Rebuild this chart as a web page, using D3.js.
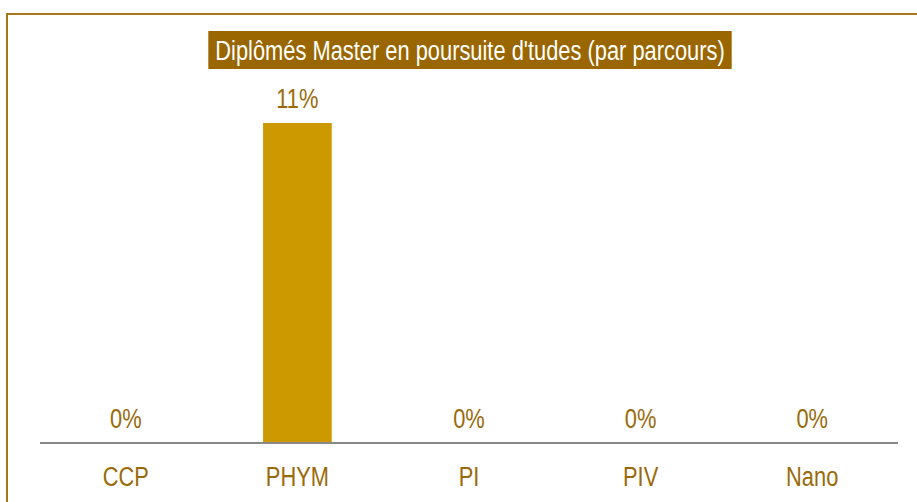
<!DOCTYPE html>
<html>
<head>
<meta charset="utf-8">
<script src="https://cdn.jsdelivr.net/npm/d3@7"></script>
<style>
  html, body { margin: 0; padding: 0; background: #fff; overflow: hidden; }
  svg { display: block; font-family: "Liberation Sans", Arial, sans-serif; }
</style>
</head>
<body>
<div id="chart"></div>
<script>
const categories = ['CCP', 'PHYM', 'PI', 'PIV', 'Nano'];
const values = [0, 11, 0, 0, 0];
const title = "Diplômés Master en poursuite d'tudes (par parcours)";

const W = 917, H = 502;
const textColor = '#9a6a0a';
const narrow = 0.81; // fake a narrow face, no Arial Narrow here

const svg = d3.select('#chart').append('svg')
  .attr('width', W)
  .attr('height', H);

// frame (runs off the right and bottom edges)
svg.append('rect')
  .attr('x', 7).attr('y', 14)
  .attr('width', W + 20).attr('height', H + 20)
  .attr('fill', 'none')
  .attr('stroke', '#a8761a')
  .attr('stroke-width', 2);

const x = d3.scaleBand()
  .domain(categories)
  .range([40, 898])
  .paddingInner(0.6)
  .paddingOuter(0.3);

const y = d3.scaleLinear()
  .domain([0, 11])
  .range([443, 123]);

// bars
svg.selectAll('.bar')
  .data(values)
  .enter()
  .append('rect')
  .attr('class', 'bar')
  .attr('x', (d, i) => x(categories[i]))
  .attr('y', d => y(d))
  .attr('width', x.bandwidth())
  .attr('height', d => y(0) - y(d))
  .attr('fill', '#cc9900');

// value labels
svg.selectAll('.val')
  .data(values)
  .enter()
  .append('text')
  .attr('class', 'val')
  .attr('transform', (d, i) =>
    `translate(${x(categories[i]) + x.bandwidth() / 2},${y(d) - 15}) scale(${narrow},1)`)
  .attr('text-anchor', 'middle')
  .style('font-size', '27px')
  .style('fill', textColor)
  .text(d => d + '%');

// x axis
const axis = svg.append('g')
  .attr('transform', `translate(0,${y(0)})`)
  .call(d3.axisBottom(x).tickSize(0).tickPadding(0));
axis.select('.domain')
  .attr('d', 'M40,0H898')
  .attr('stroke', '#888')
  .attr('stroke-width', 2);
axis.selectAll('.tick text')
  .attr('y', null)
  .attr('dy', null)
  .attr('transform', `translate(0,43) scale(${narrow},1)`)
  .style('font-size', '27px')
  .style('font-family', '"Liberation Sans", Arial, sans-serif')
  .style('fill', textColor);

// title
const tg = svg.append('g');
tg.append('text')
  .attr('transform', `translate(470,60) scale(${narrow},1)`)
  .attr('text-anchor', 'middle')
  .style('font-size', '27px')
  .style('fill', '#fff')
  .text(title);
const bb = tg.node().getBBox();
tg.insert('rect', 'text')
  .attr('x', bb.x - 7)
  .attr('y', 31)
  .attr('width', bb.width + 14)
  .attr('height', 38)
  .attr('fill', '#996600');
</script>
</body>
</html>
